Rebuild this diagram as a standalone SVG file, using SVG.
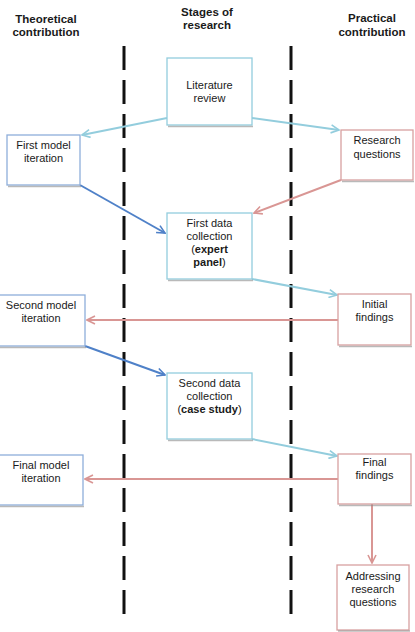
<svg xmlns="http://www.w3.org/2000/svg" width="415" height="632" viewBox="0 0 415 632">
  <defs>
    <style>
      text { font-family: "Liberation Sans", Arial, sans-serif; font-size: 11px; fill: #1a1a1a; text-anchor: middle; }
      .hdr { font-weight: bold; font-size: 11.5px; }
      .b { font-weight: bold; }
      .box { fill: #ffffff; stroke-width: 1.3; }
      .theo { stroke: #8eaedb; }
      .stage { stroke: #93cddd; }
      .prac { stroke: #d8a0a0; }
      .shadow { fill: none; stroke: #8a8a8a; stroke-width: 1.5; opacity: 0.6; }
      .divider { stroke: #111111; stroke-width: 3; stroke-dasharray: 24 10; fill: none; }
      .c { fill: none; stroke-width: 2; }
      .lb { stroke: #93cddd; }
      .db { stroke: #4f81c8; }
      .pk { stroke: #d99694; }
    </style>
    <marker id="ah-lb" viewBox="0 0 10 10" refX="9" refY="5" markerWidth="5" markerHeight="5" orient="auto" markerUnits="strokeWidth">
      <path d="M1,1 L9,5 L1,9" fill="none" stroke="#93cddd" stroke-width="1.6"/>
    </marker>
    <marker id="ah-db" viewBox="0 0 10 10" refX="9" refY="5" markerWidth="5" markerHeight="5" orient="auto" markerUnits="strokeWidth">
      <path d="M1,1 L9,5 L1,9" fill="none" stroke="#4f81c8" stroke-width="1.6"/>
    </marker>
    <marker id="ah-pk" viewBox="0 0 10 10" refX="9" refY="5" markerWidth="5" markerHeight="5" orient="auto" markerUnits="strokeWidth">
      <path d="M1,1 L9,5 L1,9" fill="none" stroke="#d99694" stroke-width="1.6"/>
    </marker>
  </defs>

  <rect width="415" height="632" fill="#ffffff"/>

  <!-- column headings -->
  <g id="headings">
    <text class="hdr" x="46" y="23">Theoretical</text>
    <text class="hdr" x="46" y="36">contribution</text>
    <text class="hdr" x="207" y="16">Stages of</text>
    <text class="hdr" x="207" y="29">research</text>
    <text class="hdr" x="372" y="22">Practical</text>
    <text class="hdr" x="372" y="36">contribution</text>
  </g>

  <!-- column dividers -->
  <g id="dividers">
    <line class="divider" x1="124" y1="46" x2="124" y2="622"/>
    <line class="divider" x1="291" y1="46" x2="291" y2="622"/>
  </g>

  <!-- connectors -->
  <g id="connectors">
    <line class="c lb" x1="167" y1="118" x2="82" y2="135" marker-end="url(#ah-lb)"/>
    <line class="c lb" x1="252" y1="118" x2="339" y2="130" marker-end="url(#ah-lb)"/>
    <line class="c db" x1="80" y1="185" x2="165" y2="233" marker-end="url(#ah-db)"/>
    <line class="c pk" x1="341" y1="180" x2="254" y2="213" marker-end="url(#ah-pk)"/>
    <line class="c lb" x1="252" y1="279" x2="337" y2="295" marker-end="url(#ah-lb)"/>
    <line class="c pk" x1="338" y1="320" x2="87" y2="320" marker-end="url(#ah-pk)"/>
    <line class="c db" x1="85" y1="346" x2="165" y2="375" marker-end="url(#ah-db)"/>
    <line class="c lb" x1="252" y1="439" x2="337" y2="456" marker-end="url(#ah-lb)"/>
    <line class="c pk" x1="338" y1="479" x2="85" y2="479" marker-end="url(#ah-pk)"/>
    <line class="c pk" x1="372" y1="504" x2="372" y2="563" marker-end="url(#ah-pk)"/>
  </g>

  <!-- stages of research -->
  <g id="literature-review">
    <rect class="box stage" x="167" y="58" width="85" height="67"/>
    <line class="shadow" x1="168" y1="126.5" x2="253" y2="126.5"/>
    <text x="209.5" y="89">Literature</text>
    <text x="209.5" y="102">review</text>
  </g>
  <g id="first-data-collection">
    <rect class="box stage" x="167" y="213" width="85" height="66"/>
    <line class="shadow" x1="168" y1="280.5" x2="253" y2="280.5"/>
    <text x="209.5" y="227">First data</text>
    <text x="209.5" y="240">collection</text>
    <text x="209.5" y="253">(<tspan class="b">expert</tspan></text>
    <text x="209.5" y="266"><tspan class="b">panel</tspan>)</text>
  </g>
  <g id="second-data-collection">
    <rect class="box stage" x="167" y="373" width="85" height="66"/>
    <line class="shadow" x1="168" y1="440.5" x2="253" y2="440.5"/>
    <text x="209.5" y="387">Second data</text>
    <text x="209.5" y="400">collection</text>
    <text x="209.5" y="413">(<tspan class="b">case study</tspan>)</text>
  </g>

  <!-- theoretical contribution -->
  <g id="first-model-iteration">
    <rect class="box theo" x="7" y="135" width="73" height="50"/>
    <line class="shadow" x1="8" y1="186.5" x2="81" y2="186.5"/>
    <text x="43.5" y="149">First model</text>
    <text x="43.5" y="162">iteration</text>
  </g>
  <g id="second-model-iteration">
    <rect class="box theo" x="-2" y="295" width="87" height="51"/>
    <line class="shadow" x1="0" y1="347.5" x2="86" y2="347.5"/>
    <text x="41" y="309">Second model</text>
    <text x="41" y="322">iteration</text>
  </g>
  <g id="final-model-iteration">
    <rect class="box theo" x="-2" y="455" width="85" height="50"/>
    <line class="shadow" x1="0" y1="506.5" x2="84" y2="506.5"/>
    <text x="41" y="469">Final model</text>
    <text x="41" y="482">iteration</text>
  </g>

  <!-- practical contribution -->
  <g id="research-questions">
    <rect class="box prac" x="341" y="130" width="72" height="50"/>
    <line class="shadow" x1="342" y1="181.5" x2="414" y2="181.5"/>
    <text x="377" y="144">Research</text>
    <text x="377" y="158">questions</text>
  </g>
  <g id="initial-findings">
    <rect class="box prac" x="338" y="294" width="73" height="51"/>
    <line class="shadow" x1="339" y1="346.5" x2="412" y2="346.5"/>
    <text x="374.5" y="308">Initial</text>
    <text x="374.5" y="321">findings</text>
  </g>
  <g id="final-findings">
    <rect class="box prac" x="338" y="454" width="73" height="50"/>
    <line class="shadow" x1="339" y1="505.5" x2="412" y2="505.5"/>
    <text x="374.5" y="466">Final</text>
    <text x="374.5" y="479">findings</text>
  </g>
  <g id="addressing-research-questions">
    <rect class="box prac" x="337" y="565" width="72" height="65"/>
    <line class="shadow" x1="338" y1="631" x2="410" y2="631"/>
    <text x="373" y="580">Addressing</text>
    <text x="373" y="593">research</text>
    <text x="373" y="606">questions</text>
  </g>
</svg>
